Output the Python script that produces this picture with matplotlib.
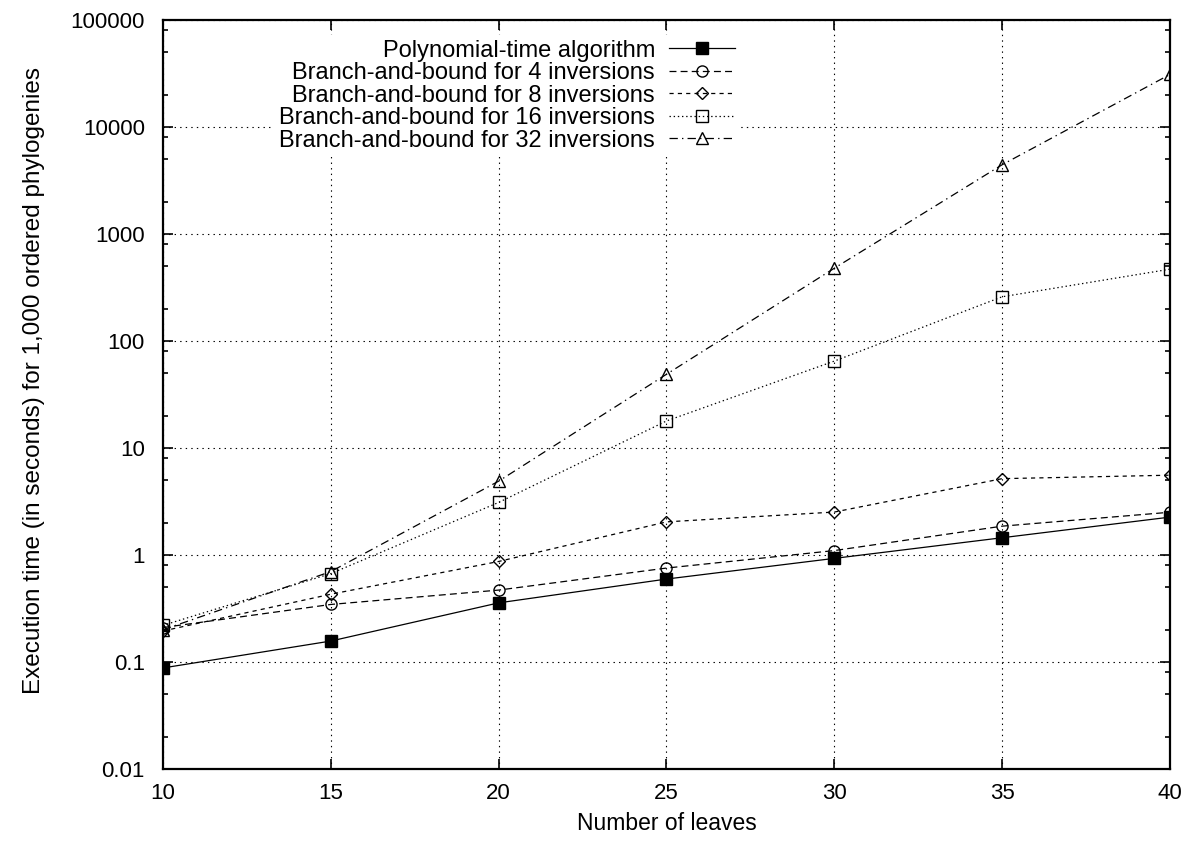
import numpy as np
import matplotlib
matplotlib.use("Agg")
import matplotlib.pyplot as plt
from matplotlib.ticker import LogLocator, FixedLocator, NullFormatter

# Data
leaves = [10, 15, 20, 25, 30, 35, 40]
poly_time = [0.088, 0.157, 0.357, 0.596, 0.93, 1.45, 2.26]
bb_4 = [0.21, 0.345, 0.47, 0.755, 1.1, 1.86, 2.51]
bb_8 = [0.195, 0.43, 0.87, 2.04, 2.52, 5.17, 5.57]
bb_16 = [0.22, 0.67, 3.1, 17.9, 64.9, 259, 469]
bb_32 = [0.20, 0.70, 4.9, 48.9, 479, 4440, 31000]

labels = [
    "Polynomial-time algorithm",
    "Branch-and-bound for 4 inversions",
    "Branch-and-bound for 8 inversions",
    "Branch-and-bound for 16 inversions",
    "Branch-and-bound for 32 inversions",
]
y_ticks = [0.01, 0.1, 1, 10, 100, 1000, 10000, 100000]
y_tick_labels = ["0.01", "0.1", "1", "10", "100", "1000", "10000", "100000"]

plt.rcParams["font.family"] = ["Liberation Sans", "DejaVu Sans"]
plt.rcParams["font.size"] = 16
plt.rcParams["lines.scale_dashes"] = False

fig = plt.figure(figsize=(11.91, 8.42), dpi=100)
ax = fig.add_axes([163 / 1191, 1 - 769 / 842, (1170 - 163) / 1191, (769 - 20) / 842])

lw = 0.9
ax.plot(leaves, poly_time, color="black", lw=lw, ls="-", marker="s", ms=8.5,
        mfc="black", mec="black", label=labels[0])
ax.plot(leaves, bb_4, color="black", lw=lw, ls=(0, (5, 3)), marker="o", ms=8,
        mfc="none", mec="black", mew=1.0, label=labels[1])
ax.plot(leaves, bb_8, color="black", lw=lw, ls=(0, (3, 3)), marker="D", ms=5.8,
        mfc="none", mec="black", mew=1.0, label=labels[2])
ax.plot(leaves, bb_16, color="black", lw=lw, ls=(0, (1, 2)), marker="s", ms=8,
        mfc="none", mec="black", mew=1.0, label=labels[3])
ax.plot(leaves, bb_32, color="black", lw=lw, ls=(0, (6, 3, 1, 3)), marker="^", ms=8,
        mfc="none", mec="black", mew=1.0, label=labels[4])

ax.set_yscale("log")
ax.set_xlim(10, 40)
ax.set_ylim(0.01, 100000)
ax.set_xticks(leaves)
ax.yaxis.set_major_locator(FixedLocator(y_ticks))
ax.set_yticklabels(y_tick_labels)
ax.yaxis.set_minor_locator(LogLocator(base=10, subs=[2, 5, 8]))
ax.yaxis.set_minor_formatter(NullFormatter())

ax.tick_params(which="both", direction="in", top=True, right=True, width=1.2)
ax.tick_params(which="major", length=7, pad=10)
ax.tick_params(axis="y", which="major", pad=13)
ax.tick_params(which="minor", length=3.5)
for s in ax.spines.values():
    s.set_linewidth(1.6)

ax.grid(True, which="major", color="black", lw=0.8, ls=(0, (1, 3)))

ax.set_xlabel("Number of leaves", fontsize=16.5, labelpad=6)
ax.set_ylabel("Execution time (in seconds) for 1,000 ordered phylogenies", fontsize=17.5)
ax.yaxis.set_label_coords(-0.117, 0.519)

leg = ax.legend(loc="upper right", bbox_to_anchor=(740 / 1191, 1 - 35 / 842),
                bbox_transform=fig.transFigure, markerfirst=False, frameon=True,
                fancybox=False, edgecolor="none", facecolor="white", framealpha=1,
                borderpad=0.2, borderaxespad=0, handlelength=2.8, handletextpad=0.6,
                labelspacing=0.02, fontsize=17)
leg.set_zorder(5)

fig.savefig("out.png", dpi=100)
